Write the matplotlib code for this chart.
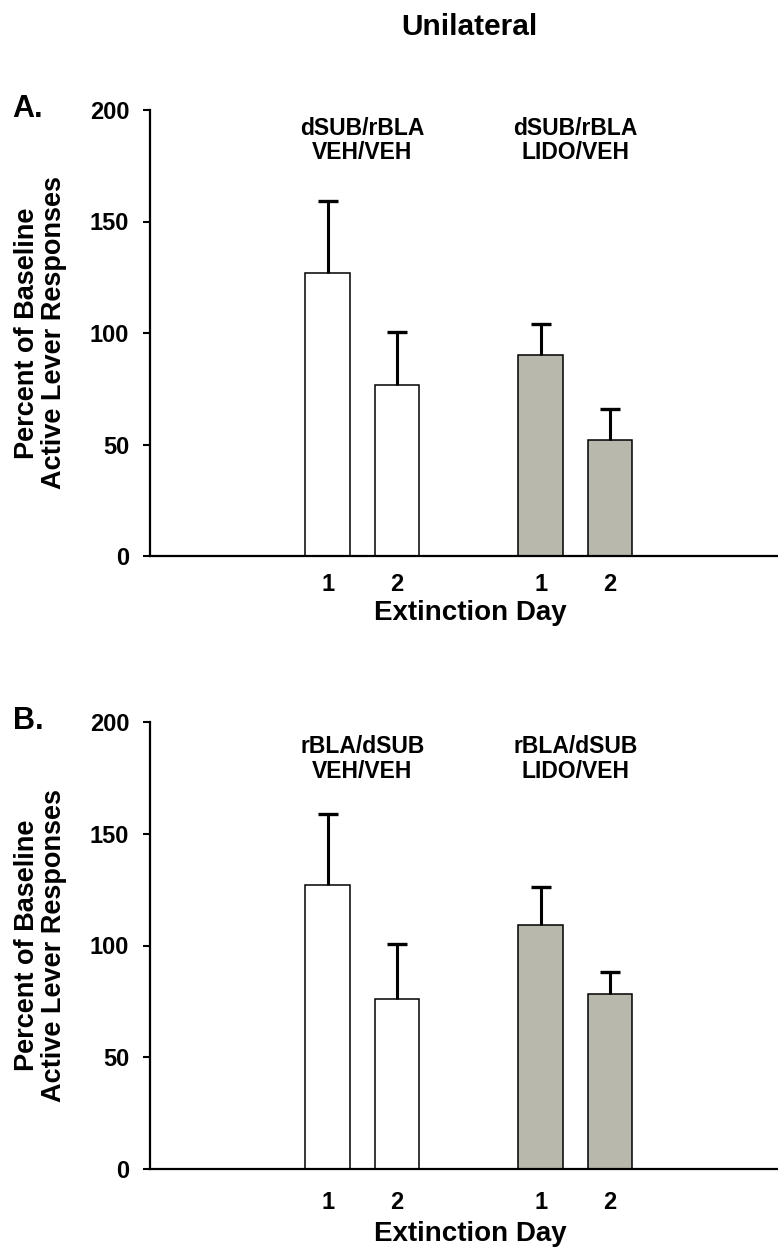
"""Unilateral dSUB/rBLA disconnection: % of baseline active lever responses per extinction day."""
import numpy as np
import matplotlib
matplotlib.use("Agg")
import matplotlib.pyplot as plt

plt.rcParams["font.family"] = ["Liberation Sans", "DejaVu Sans"]
plt.rcParams["font.weight"] = "bold"

# data
days = ["1", "2"]
yticks = [0, 50, 100, 150, 200]

a_groups = [["dSUB/rBLA", "VEH/VEH"], ["dSUB/rBLA", "LIDO/VEH"]]
a_veh = [127, 76.5]
a_veh_sem = [32, 24]
a_lido = [90, 52]
a_lido_sem = [14, 14]

b_groups = [["rBLA/dSUB", "VEH/VEH"], ["rBLA/dSUB", "LIDO/VEH"]]
b_veh = [127, 76]
b_veh_sem = [32, 24.5]
b_lido = [109, 78.5]
b_lido_sem = [17, 9.5]

c_veh, c_lido = "white", "#b8b8ac"

fig = plt.figure(figsize=(7.78, 12.48), dpi=100)
fig.text(469 / 778, 1 - 27 / 1248, "Unilateral", ha="center", va="center",
         fontsize=21.5, fontweight="bold")


def panel(rect, letter, groups, veh, veh_sem, lido, lido_sem,
          label_y, tick_pad, xlabel_y):
    ax = fig.add_axes(rect)
    starts = [2.56, 5.63]   # first-bar centre of each group
    w = 0.64
    series = [(veh, veh_sem, c_veh), (lido, lido_sem, c_lido)]
    tick_x = []
    for g, (vals, sems, col) in enumerate(series):
        x = starts[g] + np.arange(len(days))
        tick_x.extend(x)
        vals = np.asarray(vals, float)
        sems = np.asarray(sems, float)
        ax.bar(x, vals, width=w, color=col, edgecolor="black", linewidth=1.1, zorder=2)
        ax.errorbar(x, vals, yerr=[np.zeros_like(sems), sems], fmt="none",
                    ecolor="black", elinewidth=2.2, capsize=0, zorder=3)
        ax.plot(x, vals + sems, "_", color="black", markersize=15, mew=2.4, zorder=3)
        for line, yy in zip(groups[g], label_y):
            ax.text(x.mean(), yy, line, transform=ax.get_xaxis_transform(),
                    ha="center", va="baseline", fontsize=16.5, fontweight="bold")

    ax.set_xlim(0, 9.05)
    ax.set_ylim(0, 200)
    ax.set_yticks(yticks)
    ax.set_xticks(tick_x)
    ax.set_xticklabels(days * 2)
    ax.tick_params(axis="x", length=0, pad=tick_pad, labelsize=17)
    ax.tick_params(axis="y", length=5, width=1.5, pad=10, labelsize=17)
    for s in ("top", "right"):
        ax.spines[s].set_visible(False)
    for s in ("left", "bottom"):
        ax.spines[s].set_linewidth(1.6)
    ax.set_xlabel("Extinction Day", fontsize=20, fontweight="bold")
    ax.xaxis.set_label_coords(0.51, xlabel_y)

    bottom, height = rect[1], rect[3]
    fig.text(41 / 778, bottom + height / 2, "Percent of Baseline\nActive Lever Responses",
             rotation=90, ha="center", va="center", fontsize=19.5, fontweight="bold",
             linespacing=1.05)
    fig.text(28 / 778, bottom + height + 0.001, letter, ha="center", va="center",
             fontsize=22, fontweight="bold")
    return ax


panel([150 / 778, 1 - 556 / 1248, 628 / 778, 446 / 1248], "A.",
      a_groups, a_veh, a_veh_sem, a_lido, a_lido_sem,
      label_y=(0.943, 0.891), tick_pad=12, xlabel_y=-0.098)
panel([150 / 778, 1 - 1169 / 1248, 628 / 778, 447 / 1248], "B.",
      b_groups, b_veh, b_veh_sem, b_lido, b_lido_sem,
      label_y=(0.9306, 0.8747), tick_pad=16, xlabel_y=-0.116)

fig.savefig("out.png", dpi=100)
print("wrote out.png")
